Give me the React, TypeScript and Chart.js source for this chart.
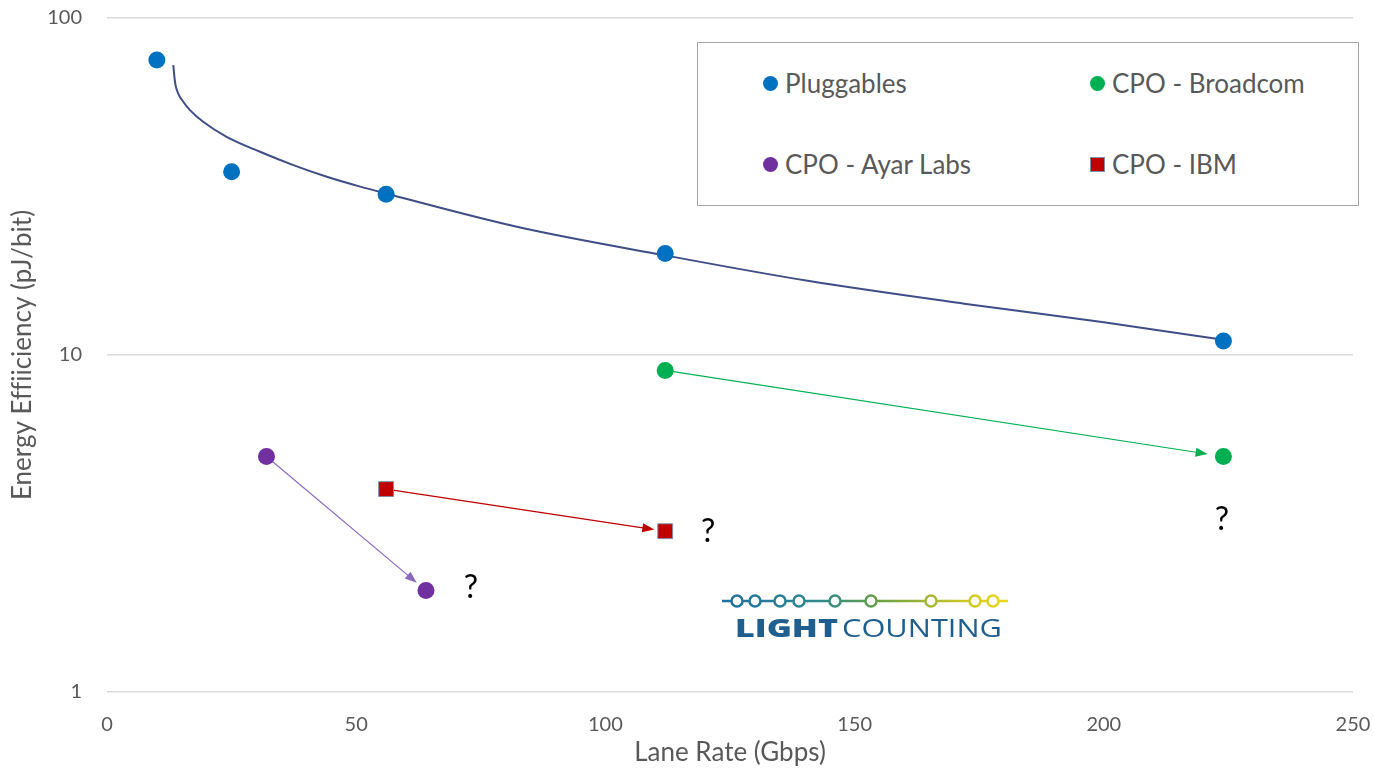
import React, { useEffect, useRef } from "react";
import { Chart, registerables } from "chart.js";

Chart.register(...registerables);

// ---- data ----
const pluggablesX = [10, 25, 56, 112, 224];
const pluggablesY = [75, 35, 30, 20, 11];
const broadcomX = [112, 224];
const broadcomY = [9, 5];
const ayarX = [32, 64];
const ayarY = [5, 2];
const ibmX = [56, 112];
const ibmY = [4, 3];
const trendX = [13.3, 13.48, 13.74, 14.25, 15.05, 16.65, 19.3, 24, 30.7, 37.4, 44.1, 50.8, 55.8, 82.9, 111.6, 140.6, 172, 200, 224];
const trendY = [72.5, 67.8, 63.3, 59.9, 57.1, 53.3, 49.2, 44.4, 40.1, 36.6, 33.8, 31.6, 30.2, 23.9, 19.8, 16.6, 14.2, 12.5, 11.1];
const questionX = [73, 120.6, 223.7];
const questionY = [2.04, 3.0, 3.24];
const xTicks = [0, 50, 100, 150, 200, 250];
const yTicks = [1, 10, 100];
const legendLabels = ["Pluggables", "CPO - Broadcom", "CPO - Ayar Labs", "CPO - IBM"];
const xTitle = "Lane Rate (Gbps)";
const yTitle = "Energy Ef\u200Cf\u200Ciiciency (pJ/bit)";

const BLUE = "#0070C0";
const GREEN = "#00B050";
const PURPLE = "#7030A0";
const RED = "#C00000";
const TEXT = "#595959";
const FONT = "Lato, 'Open Sans', sans-serif";

const zip = (xs: number[], ys: number[]) => xs.map((x, i) => ({ x, y: ys[i] }));

const arrows = [
  { xs: broadcomX, ys: broadcomY, color: "#00B050", gap: 16 },
  { xs: ayarX, ys: ayarY, color: "#8A68C0", gap: 12 },
  { xs: ibmX, ys: ibmY, color: "#C00000", gap: 11 },
];

const arrowPlugin = {
  id: "arrows",
  beforeDatasetsDraw(chart: any) {
    const { ctx } = chart;
    const xs = chart.scales.x;
    const ys = chart.scales.y;
    arrows.forEach((a) => {
      const x1 = xs.getPixelForValue(a.xs[0]);
      const y1 = ys.getPixelForValue(a.ys[0]);
      const x2 = xs.getPixelForValue(a.xs[1]);
      const y2 = ys.getPixelForValue(a.ys[1]);
      const ang = Math.atan2(y2 - y1, x2 - x1);
      const c = Math.cos(ang);
      const s = Math.sin(ang);
      const tx = x2 - c * a.gap;
      const ty = y2 - s * a.gap;
      const L = 12;
      const W = 4.5;
      ctx.save();
      ctx.strokeStyle = a.color;
      ctx.fillStyle = a.color;
      ctx.lineWidth = 1.2;
      ctx.beginPath();
      ctx.moveTo(x1, y1);
      ctx.lineTo(tx - c * (L - 2), ty - s * (L - 2));
      ctx.stroke();
      ctx.beginPath();
      ctx.moveTo(tx, ty);
      ctx.lineTo(tx - c * L - s * W, ty - s * L + c * W);
      ctx.lineTo(tx - c * L + s * W, ty - s * L - c * W);
      ctx.closePath();
      ctx.fill();
      ctx.restore();
    });
  },
};

const questionPlugin = {
  id: "questions",
  afterDatasetsDraw(chart: any) {
    const { ctx } = chart;
    const xs = chart.scales.x;
    const ys = chart.scales.y;
    ctx.save();
    ctx.fillStyle = "#000000";
    ctx.font = `32px ${FONT}`;
    ctx.textAlign = "center";
    ctx.textBaseline = "middle";
    questionX.forEach((qx, i) => {
      ctx.fillText("?", xs.getPixelForValue(qx), ys.getPixelForValue(questionY[i]));
    });
    ctx.restore();
  },
};

function Legend() {
  const item = (left: number, top: number, label: string, marker: React.ReactNode) => (
    <div
      style={{
        position: "absolute",
        left,
        top: top - 16,
        height: 32,
        display: "flex",
        alignItems: "center",
        fontFamily: FONT,
        fontSize: 26,
        color: TEXT,
        whiteSpace: "nowrap",
      }}
    >
      {marker}
      <span style={{ marginLeft: 7 }}>{label}</span>
    </div>
  );
  const dot = (color: string) => (
    <span style={{ display: "inline-block", width: 15, height: 15, borderRadius: "50%", background: color }} />
  );
  const sq = (color: string) => (
    <span
      style={{
        display: "inline-block",
        width: 13,
        height: 13,
        background: color,
        border: "1px solid #7F8FA9",
      }}
    />
  );
  return (
    <div
      style={{
        position: "absolute",
        left: 697,
        top: 42,
        width: 660,
        height: 162,
        border: "1px solid #A6A6A6",
        background: "#fff",
      }}
    >
      {item(65, 40, legendLabels[0], dot(BLUE))}
      {item(392, 40, legendLabels[1], dot(GREEN))}
      {item(65, 121, legendLabels[2], dot(PURPLE))}
      {item(392, 121, legendLabels[3], sq(RED))}
    </div>
  );
}

function Logo() {
  const circles = [737, 755, 780, 799, 835, 871, 931, 975, 993];
  return (
    <svg
      width={1374}
      height={778}
      style={{ position: "absolute", left: 0, top: 0, pointerEvents: "none" }}
    >
      <defs>
        <linearGradient id="lcgrad" gradientUnits="userSpaceOnUse" x1={722} y1={0} x2={1008} y2={0}>
          <stop offset="0" stopColor="#1D6FA3" />
          <stop offset="0.35" stopColor="#2F8A8A" />
          <stop offset="0.55" stopColor="#6AA043" />
          <stop offset="0.8" stopColor="#BFC22B" />
          <stop offset="1" stopColor="#EED81C" />
        </linearGradient>
      </defs>
      <line x1={722} y1={601} x2={1008} y2={601} stroke="url(#lcgrad)" strokeWidth={2.5} />
      {circles.map((cx, i) => (
        <circle key={i} cx={cx} cy={601} r={5.5} fill="#fff" stroke="url(#lcgrad)" strokeWidth={2.5} />
      ))}
      <text
        x={735}
        y={637}
        fontFamily="'Open Sans', sans-serif"
        fontWeight={800}
        fontSize={25}
        fill="#1F5F8F"
        textLength={103}
        lengthAdjust="spacingAndGlyphs"
      >
        LIGHT
      </text>
      <text
        x={842}
        y={637}
        fontFamily="'Open Sans', sans-serif"
        fontWeight={400}
        fontSize={25}
        fill="#1F5F8F"
        textLength={160}
        lengthAdjust="spacingAndGlyphs"
      >
        COUNTING
      </text>
    </svg>
  );
}

export default function App() {
  const canvasRef = useRef<HTMLCanvasElement | null>(null);

  useEffect(() => {
    if (!canvasRef.current) return;
    Chart.defaults.font.family = FONT;
    const chart = new Chart(canvasRef.current, {
      type: "scatter",
      data: {
        datasets: [
          {
            label: legendLabels[0],
            data: zip(pluggablesX, pluggablesY),
            backgroundColor: BLUE,
            borderWidth: 0,
            pointRadius: 8.5,
          },
          {
            label: legendLabels[1],
            data: zip(broadcomX, broadcomY),
            backgroundColor: GREEN,
            borderWidth: 0,
            pointRadius: 8.5,
          },
          {
            label: legendLabels[2],
            data: zip(ayarX, ayarY),
            backgroundColor: PURPLE,
            borderWidth: 0,
            pointRadius: 8.5,
          },
          {
            label: legendLabels[3],
            data: zip(ibmX, ibmY),
            backgroundColor: RED,
            borderColor: "#7F8FA9",
            borderWidth: 1,
            pointStyle: "rect",
            pointRadius: 10.5,
          },
          {
            type: "line",
            label: "Trend",
            data: zip(trendX, trendY),
            borderColor: "#3F4E86",
            borderWidth: 2,
            pointRadius: 0,
            showLine: true,
            fill: false,
            cubicInterpolationMode: "monotone",
          } as any,
        ],
      },
      options: {
        animation: false,
        responsive: false,
        maintainAspectRatio: false,
        layout: { padding: { left: 0, right: 21, top: 18, bottom: 0 } },
        plugins: {
          legend: { display: false },
          tooltip: { enabled: false },
          title: { display: false },
        },
        scales: {
          x: {
            type: "linear",
            min: 0,
            max: 250,
            afterBuildTicks: (scale: any) => {
              scale.ticks = xTicks.map((v) => ({ value: v }));
            },
            afterFit: (scale: any) => {
              scale.height = 86;
              scale.paddingLeft = 0;
              scale.paddingRight = 0;
            },
            grid: { display: false, drawTicks: false },
            border: { display: false },
            ticks: {
              color: TEXT,
              font: { size: 20, family: FONT },
              padding: 21,
              maxRotation: 0,
              callback: (v: any) => String(v),
            },
            title: {
              display: true,
              text: xTitle,
              color: TEXT,
              font: { size: 26, family: FONT, lineHeight: 1 },
              padding: { top: 0, bottom: 12 },
            },
          },
          y: {
            type: "logarithmic",
            min: 1,
            max: 100,
            afterBuildTicks: (scale: any) => {
              scale.ticks = yTicks.map((v) => ({ value: v }));
            },
            afterFit: (scale: any) => {
              scale.width = 107;
              scale.paddingTop = 0;
              scale.paddingBottom = 0;
            },
            grid: { color: "#D9D9D9", lineWidth: 1.5, drawTicks: false },
            border: { display: false },
            ticks: {
              color: TEXT,
              font: { size: 20, family: FONT },
              padding: 25,
              callback: (v: any) => String(v),
            },
            title: {
              display: true,
              text: yTitle,
              color: TEXT,
              font: { size: 26, family: FONT, lineHeight: 1 },
              padding: { top: 10, bottom: 0 },
            },
          },
        },
      },
      plugins: [arrowPlugin, questionPlugin],
    });
    return () => chart.destroy();
  }, []);

  return (
    <div style={{ position: "absolute", left: 0, top: 0, width: 1374, height: 778, background: "#fff" }}>
      <canvas ref={canvasRef} width={1374} height={778} style={{ position: "absolute", left: 0, top: 0 }} />
      <Legend />
      <Logo />
    </div>
  );
}
